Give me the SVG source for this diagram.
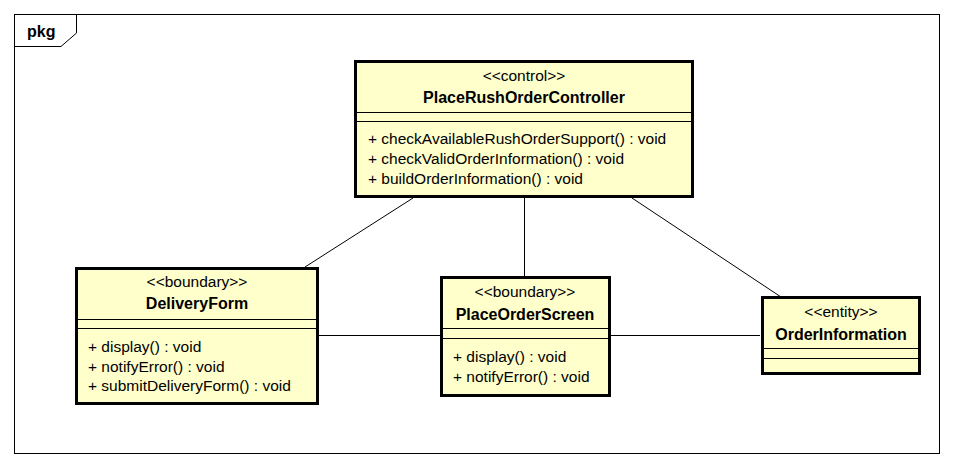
<svg xmlns="http://www.w3.org/2000/svg" width="953" height="468" viewBox="0 0 953 468">
<style>
.box{fill:#ffffcc;stroke:#000;stroke-width:3}
.sep{stroke:#000;stroke-width:1}
.st{font-family:"Liberation Sans",Arial,sans-serif;font-size:15.5px;text-anchor:middle;fill:#000}
.nm{font-family:"Liberation Sans",Arial,sans-serif;font-size:16px;font-weight:bold;text-anchor:middle;fill:#000}
.op{font-family:"Liberation Sans",Arial,sans-serif;font-size:15.5px;fill:#000}
.con{stroke:#000;stroke-width:1;fill:none}
</style>
<rect x="0" y="0" width="953" height="468" fill="#fff"/>
<g id="frame">
<rect x="14.5" y="14.5" width="925" height="439" fill="#fff" stroke="#000" stroke-width="1"/>
<path d="M76.5 14.5 V33 L61 46.5 H14.5" fill="none" stroke="#000" stroke-width="1"/>
<text x="27" y="37" style="font-family:'Liberation Sans',Arial,sans-serif;font-size:16px;font-weight:bold">pkg</text>
</g>
<g id="connectors">
<line class="con" x1="413" y1="198" x2="305" y2="267"/>
<line class="con" x1="524.5" y1="198" x2="524.5" y2="277"/>
<line class="con" x1="632" y1="198" x2="781" y2="297"/>
<line class="con" x1="318" y1="335.5" x2="440" y2="335.5"/>
<line class="con" x1="611" y1="335.5" x2="760" y2="335.5"/>
</g>
<g id="PlaceRushOrderController">
<rect class="box" x="355.5" y="61.5" width="337" height="135"/>
<line class="sep" x1="355" y1="112.5" x2="693" y2="112.5"/>
<line class="sep" x1="355" y1="121.5" x2="693" y2="121.5"/>
<text class="st" x="524" y="81">&lt;&lt;control&gt;&gt;</text>
<text class="nm" x="524" y="103">PlaceRushOrderController</text>
<text class="op" x="368" y="144">+ checkAvailableRushOrderSupport() : void</text>
<text class="op" x="368" y="164">+ checkValidOrderInformation() : void</text>
<text class="op" x="368" y="184">+ buildOrderInformation() : void</text>
</g>
<g id="DeliveryForm">
<rect class="box" x="76.5" y="268.5" width="241" height="135"/>
<line class="sep" x1="76" y1="319.5" x2="318" y2="319.5"/>
<line class="sep" x1="76" y1="328.5" x2="318" y2="328.5"/>
<text class="st" x="197" y="287">&lt;&lt;boundary&gt;&gt;</text>
<text class="nm" x="197" y="309">DeliveryForm</text>
<text class="op" x="88" y="352">+ display() : void</text>
<text class="op" x="88" y="372">+ notifyError() : void</text>
<text class="op" x="88" y="391">+ submitDeliveryForm() : void</text>
</g>
<g id="PlaceOrderScreen">
<rect class="box" x="441.5" y="277.5" width="168" height="118"/>
<line class="sep" x1="441" y1="328.5" x2="610" y2="328.5"/>
<line class="sep" x1="441" y1="338.5" x2="610" y2="338.5"/>
<text class="st" x="525" y="297">&lt;&lt;boundary&gt;&gt;</text>
<text class="nm" x="525" y="320">PlaceOrderScreen</text>
<text class="op" x="453" y="362">+ display() : void</text>
<text class="op" x="453" y="382">+ notifyError() : void</text>
</g>
<g id="OrderInformation">
<rect class="box" x="762.5" y="297.5" width="157" height="76"/>
<line class="sep" x1="762" y1="348.5" x2="920" y2="348.5"/>
<line class="sep" x1="762" y1="358.5" x2="920" y2="358.5"/>
<text class="st" x="841" y="317">&lt;&lt;entity&gt;&gt;</text>
<text class="nm" x="841" y="340">OrderInformation</text>
</g>
</svg>
